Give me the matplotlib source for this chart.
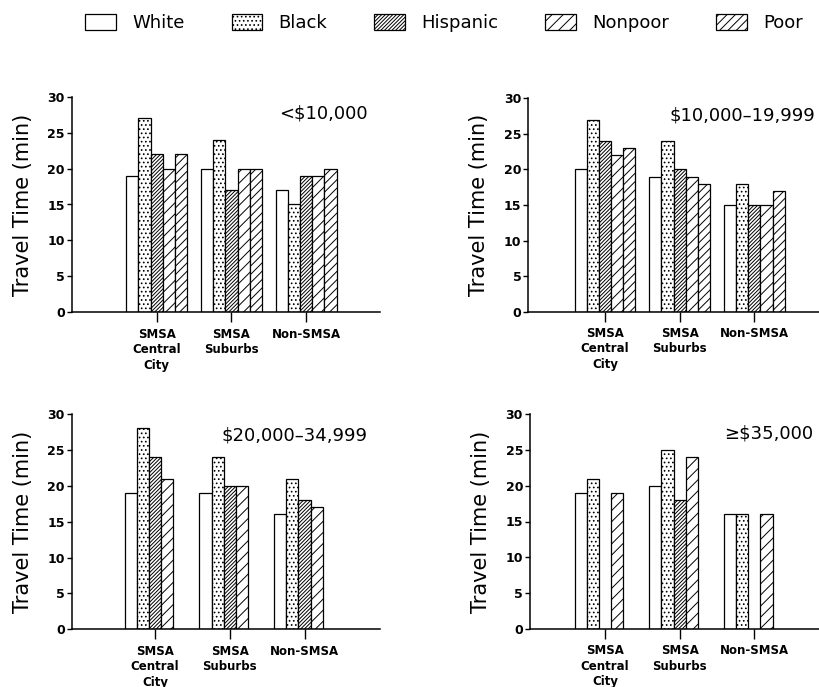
import matplotlib
matplotlib.use("Agg")
import matplotlib.pyplot as plt
import numpy as np
from matplotlib.patches import Patch

plt.rcParams['font.family'] = ['DejaVu Sans']
plt.rcParams['hatch.linewidth'] = 0.7
plt.rcParams['hatch.color'] = '#222222'

groups = ["White", "Black", "Hispanic", "Nonpoor", "Poor"]
areas = ["SMSA\nCentral\nCity", "SMSA\nSuburbs", "Non-SMSA"]
hatches = ["", "....", "/" * 9, "///", "////"]

# travel time (min) per area, one row per group; nan = no bar
nan = np.nan
inc_lt10 = [[19, 20, 17],
            [27, 24, 15],
            [22, 17, 19],
            [20, 20, 19],
            [22, 20, 20]]
inc_10_20 = [[20, 19, 15],
             [27, 24, 18],
             [24, 20, 15],
             [22, 19, 15],
             [23, 18, 17]]
inc_20_35 = [[19, 19, 16],
             [28, 24, 21],
             [24, 20, 18],
             [21, 20, 17],
             [nan, nan, nan]]
inc_ge35 = [[19, 20, 16],
            [21, 25, 16],
            [nan, 18, nan],
            [19, 24, 16],
            [nan, nan, nan]]

panels = [
    ("<$10,000", inc_lt10, [71.7, 96.7, 380, 312.3], (-1.138, 2.989), (0.961, 0.92)),
    ("$10,000\u201319,999", inc_10_20, [528.3, 98.3, 822, 311.7], (-1.027, 2.905), (0.976, 0.92)),
    ("$20,000\u201334,999", inc_20_35, [71.7, 414, 380, 629.3], (-1.115, 3.01), (0.958, 0.90)),
    ("\u2265$35,000", inc_ge35, [530, 414, 822, 629], (-1.004, 2.905), (0.970, 0.91)),
]

W, H = 820, 687
fig = plt.figure(figsize=(W / 100, H / 100), dpi=100)

bw = 0.163
x = np.arange(len(areas))
for title, vals, (x0, y0, x1, y1), xl, tpos in panels:
    ax = fig.add_axes([x0 / W, 1 - y1 / H, (x1 - x0) / W, (y1 - y0) / H])
    for j, g in enumerate(groups):
        ax.bar(x + (j - 2) * bw, vals[j], width=bw, color='white',
               edgecolor='black', linewidth=0.9, hatch=hatches[j])
    ax.set_xlim(*xl)
    ax.set_ylim(0, 30)
    ax.set_yticks(range(0, 31, 5))
    ax.set_yticklabels([str(v) for v in range(0, 31, 5)], fontsize=9,
                       fontweight='bold')
    ax.set_xticks(x)
    ax.set_xticklabels(areas, fontsize=8.5, fontweight='bold',
                       family=['Liberation Sans Narrow', 'DejaVu Sans'],
                       linespacing=1.25)
    ax.tick_params(axis='x', length=7.5, width=1, pad=3.5)
    ax.tick_params(axis='y', length=3.5, width=1, pad=1.5)
    for s in ['top', 'right']:
        ax.spines[s].set_visible(False)
    for s in ['left', 'bottom']:
        ax.spines[s].set_linewidth(1.1)
    ax.set_ylabel("Travel Time (min)", fontsize=15)
    ax.yaxis.set_label_coords(-39 / (x1 - x0), 0.5)
    ax.text(tpos[0], tpos[1], title, transform=ax.transAxes, ha='right',
            va='center', fontsize=13)

handles = [Patch(facecolor='white', edgecolor='black', linewidth=0.9,
                 hatch=h, label=g) for g, h in zip(groups, hatches)]
fig.legend(handles=handles, loc='center', bbox_to_anchor=(444 / W, 1 - 23 / H),
           ncol=5, frameon=False, fontsize=13, handlelength=1.7,
           handleheight=1.05, handletextpad=0.9, columnspacing=2.6)

fig.savefig("out.png", dpi=100)
